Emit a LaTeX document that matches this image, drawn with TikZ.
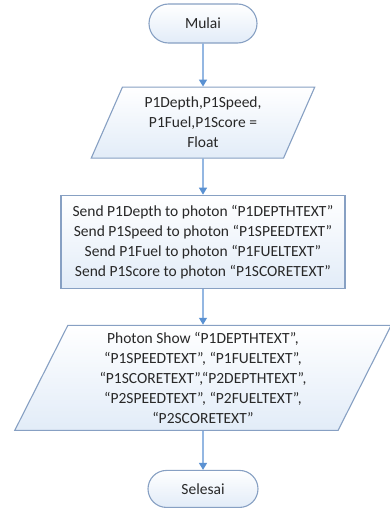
\documentclass[tikz,border=0pt]{standalone}
\usepackage{fontspec}
\setmainfont{Carlito}
\usepackage{tikz}
\usetikzlibrary{
  shapes.geometric, shapes.misc,
  arrows.meta,
  positioning
}
\definecolor{edgeblue}{RGB}{135,160,195}
\definecolor{fillblue}{RGB}{226,236,248}
\definecolor{arrowblue}{RGB}{90,145,210}
\definecolor{txtgray}{RGB}{40,40,40}
\tikzset{
  basebox/.style={draw=edgeblue,line width=1.1pt,top color=white,bottom color=fillblue,align=center,text=txtgray,font=\fontsize{15.5}{20}\selectfont,inner sep=0pt},
  termnode/.style={basebox,rounded rectangle,minimum width=108pt,minimum height=39pt},
  ionode/.style={basebox,trapezium,trapezium left angle=66,trapezium right angle=114,trapezium stretches=true},
  procnode/.style={basebox,rectangle,minimum width=284pt,minimum height=93pt},
  arr/.style={-{Triangle[length=7pt,width=8pt]},line width=1.3pt,color=arrowblue}
}

\begin{document}
\begin{tikzpicture}[node distance=36pt]
  \useasboundingbox (0,0) rectangle (390pt,-514pt);
  %% Start
  \node[termnode] (mulai) at (203pt,-23.5pt) {Mulai};

  %% Declaration
  \node[ionode,minimum width=224pt,minimum height=71pt,below=43pt of mulai] (decl)
    {P1Depth,P1Speed,\\P1Fuel,P1Score =\\Float};

  %% Send to photon
  \node[procnode,below=of decl] (send)
    {Send P1Depth to photon “P1DEPTHTEXT”\\
     Send P1Speed to photon “P1SPEEDTEXT”\\
     Send P1Fuel to photon “P1FUELTEXT”\\
     Send P1Score to photon “P1SCORETEXT”};

  %% Photon show
  \node[ionode,minimum width=377pt,minimum height=105pt,below=of send] (show)
    {Photon Show “P1DEPTHTEXT”,\\
     “P1SPEEDTEXT”, “P1FUELTEXT”,\\
     “P1SCORETEXT”,“P2DEPTHTEXT”,\\
     “P2SPEEDTEXT”, “P2FUELTEXT”,\\
     “P2SCORETEXT”};

  %% End
  \node[termnode,minimum width=110pt,minimum height=37pt,below=39pt of show] (selesai) {Selesai};

  %% Arrows
  \draw[arr] (mulai) -- (decl);
  \draw[arr] (decl) -- (send);
  \draw[arr] (send) -- (show);
  \draw[arr] (show) -- (selesai);
\end{tikzpicture}
\end{document}
